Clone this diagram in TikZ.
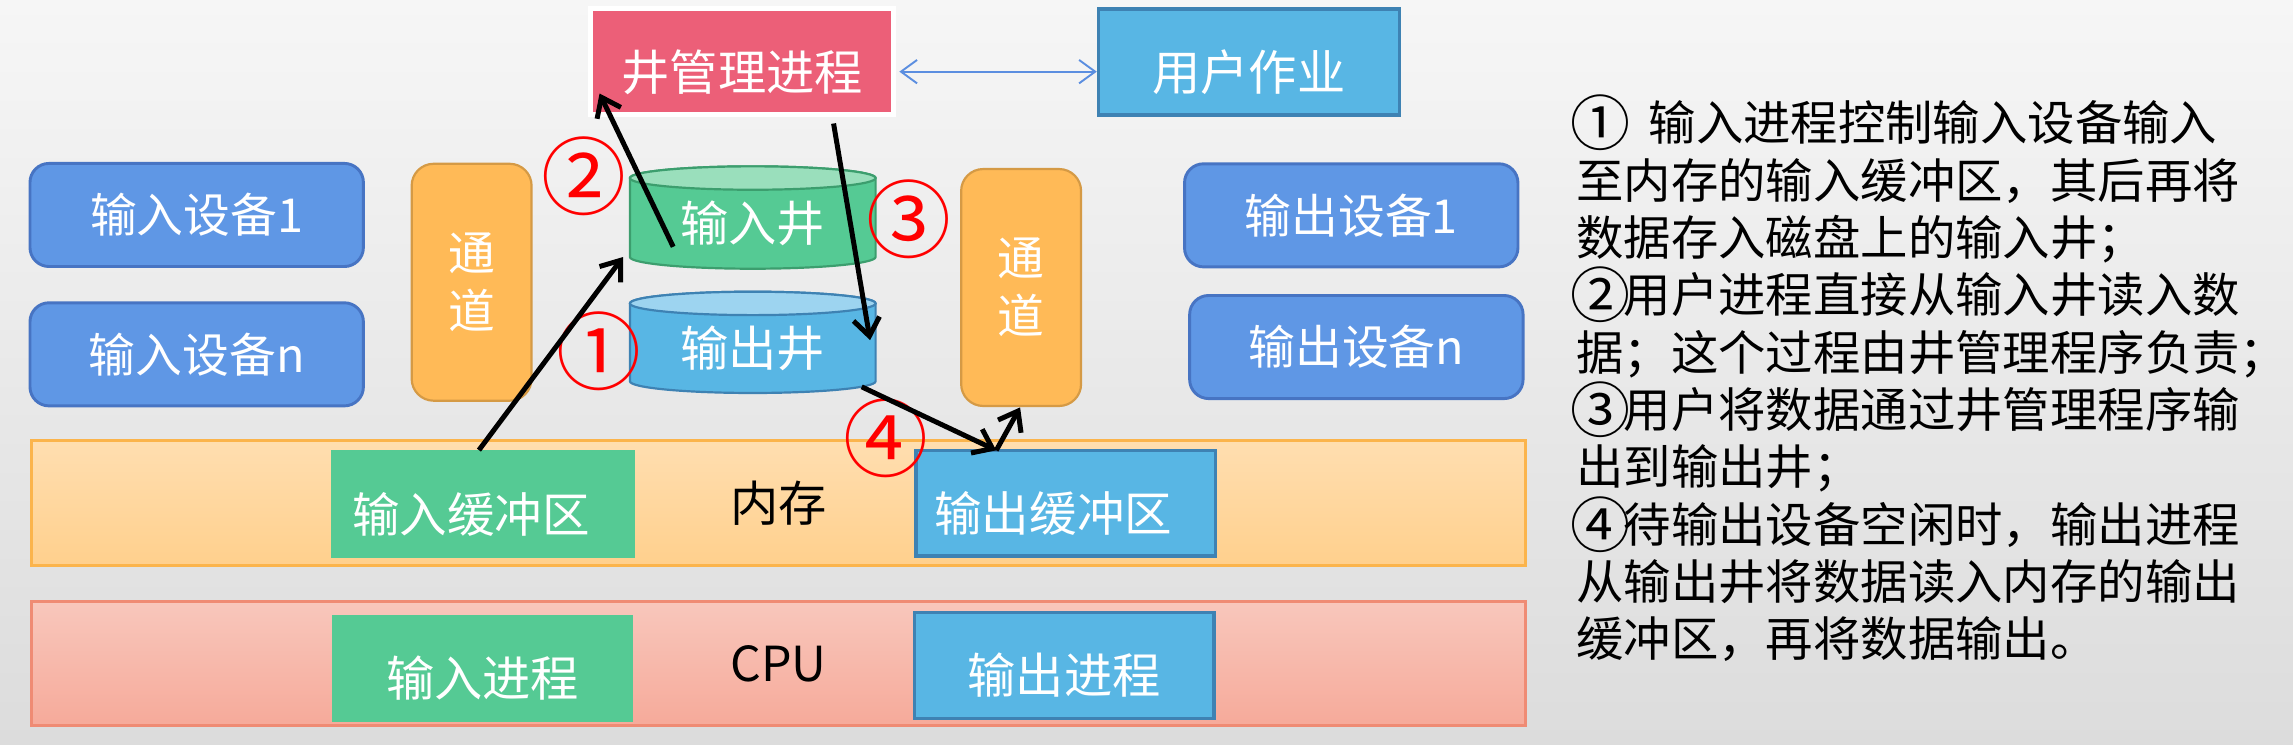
\documentclass[tikz,border=0pt]{standalone}
\usepackage{fontspec}
\setmainfont{Noto Sans CJK SC}
\usetikzlibrary{arrows.meta,calc}
\definecolor{bgtop}{HTML}{F6F6F6}
\definecolor{bgbot}{HTML}{DCDCDC}
\definecolor{wellpink}{HTML}{EC5F78}
\definecolor{devblue}{HTML}{5F97E5}
\definecolor{devborder}{HTML}{4774C3}
\definecolor{chanfill}{HTML}{FFBA57}
\definecolor{chanborder}{HTML}{D59A45}
\definecolor{greenfill}{HTML}{55CA94}
\definecolor{greenborder}{HTML}{3C9E6E}
\definecolor{greentop}{HTML}{9ADFBC}
\definecolor{bluefill}{HTML}{58B6E4}
\definecolor{blueborder}{HTML}{3E82B3}
\definecolor{bluetop}{HTML}{9DD4F0}
\definecolor{memtop}{HTML}{FFDEB0}
\definecolor{membot}{HTML}{FFD08D}
\definecolor{memborder}{HTML}{FBB44C}
\definecolor{cputop}{HTML}{F8C7BC}
\definecolor{cpubot}{HTML}{F6AA9A}
\definecolor{cpuborder}{HTML}{EF8B74}
\definecolor{arrowblue}{HTML}{5B8EE0}
\newcommand{\bignum}[1]{\makebox[1em][c]{\raisebox{-3.5pt}{\fontsize{41}{39}\selectfont #1}}}
\begin{document}
\begin{tikzpicture}[x=1pt,y=-1pt,
  font=\fontsize{33}{40}\selectfont,
  every node/.style={outer sep=0pt},
  downtext/.style={text height=#1, text depth=0pt},
  devbox/.style={draw=devborder, fill=devblue, line width=2pt, rounded corners=13pt,
    minimum width=228pt, minimum height=70.5pt, text=white, inner sep=0pt,
    font=\fontsize{32}{40}\selectfont},
  chanbox/.style={draw=chanborder, fill=chanfill, line width=1.5pt, rounded corners=15pt,
    minimum width=82pt, minimum height=162pt, text=white, align=center, inner sep=0pt,
    font=\fontsize{32}{39.5}\selectfont},
  greenbox/.style={fill=greenfill, text=white, inner sep=0pt},
  bluebox/.style={fill=bluefill, draw=blueborder, line width=2.4pt, text=white, inner sep=0pt},
  bandbox/.style={line width=2pt, minimum width=1022pt, inner sep=0pt, text=black},
  cylbox/.style={minimum width=168pt, inner sep=0pt, text=white},
  circnum/.style={text=red, font=\fontsize{58}{58}\selectfont, inner sep=0pt},
  blackarrow/.style={line width=3.4pt, -{Straight Barb[length=12pt,width=18pt]}},
  bluearrow/.style={draw=arrowblue, line width=1.3pt,
    {Straight Barb[length=11pt,width=16pt]}-{Straight Barb[length=11pt,width=16pt]}},
  note/.style={anchor=base west, inner sep=0pt, text=black, font=\fontsize{32.4}{39}\selectfont}
]
% background and frame
\useasboundingbox (0,0) rectangle (1568,508.8);
\fill[top color=bgtop, bottom color=bgbot] (0,0) rectangle (1568,508.8);

% memory and CPU bands
\node[bandbox, top color=memtop, bottom color=membot, draw=memborder,
  minimum height=85pt] (mem) at (532.4,344) {内存};
\node[bandbox, top color=cputop, bottom color=cpubot, draw=cpuborder,
  minimum height=84.7pt] (cpu) at (532.4,453.65) {CPU};

% top boxes
\node[fill=wellpink, draw=white, line width=3.5pt, minimum width=207pt, minimum height=72.5pt,
  text=white, inner sep=0pt, downtext=39pt] (well) at (507.5,42.2) {井管理进程};
\node[bluebox, minimum width=206pt, minimum height=72.5pt, downtext=39pt] (user) at (854,42.5) {用户作业};

% devices
\node[devbox] (in1) at (134.5,147) {输入设备1};
\node[devbox] (inn) at (134.5,242.3) {输入设备n};
\node[devbox] (out1) at (924,147.25) {输出设备1};
\node[devbox] (outn) at (927.5,237.3) {输出设备n};

% channels
\node[chanbox] (chL) at (322.5,193) {通\\道};
\node[chanbox] (chR) at (698.25,196.6) {通\\道};

% buffers and processes
\node[greenbox, minimum width=207.7pt, minimum height=73.6pt, downtext=38.7pt,
  font=\fontsize{32.5}{40}\selectfont] (inbuf) at (330.5,344.6) {输入缓冲区\hspace*{17pt}};
\node[bluebox, minimum width=205pt, minimum height=72.4pt, downtext=38.7pt,
  font=\fontsize{32.5}{40}\selectfont] (outbuf) at (728.75,344.15) {输出缓冲区\hspace*{17pt}};
\node[greenbox, minimum width=206pt, minimum height=73.4pt, downtext=38pt] (inproc) at (330,457.3) {输入进程};
\node[bluebox, minimum width=205pt, minimum height=72.3pt, downtext=38pt] (outproc) at (727.75,455) {输出进程};

% spool cylinders
\node[cylbox, minimum height=70pt] (wellin) at (514.75,148.75) {};
\node[cylbox, minimum height=69.25pt] (wellout) at (514.75,234.1) {};
\path[fill=greenfill, draw=greenborder, line width=1.5pt]
  ([yshift=-8pt]wellin.north west) -- ([yshift=8pt]wellin.south west)
  arc[start angle=180, end angle=360, x radius=84pt, y radius=8pt]
  -- ([yshift=-8pt]wellin.north east)
  arc[start angle=0, end angle=180, x radius=84pt, y radius=8pt] -- cycle;
\path[fill=greentop, draw=greenborder, line width=1.5pt]
  ([yshift=-8pt]wellin.north) ellipse[x radius=84pt, y radius=8pt];
\path[fill=bluefill, draw=blueborder, line width=1.5pt]
  ([yshift=-8pt]wellout.north west) -- ([yshift=8pt]wellout.south west)
  arc[start angle=180, end angle=360, x radius=84pt, y radius=8pt]
  -- ([yshift=-8pt]wellout.north east)
  arc[start angle=0, end angle=180, x radius=84pt, y radius=8pt] -- cycle;
\path[fill=bluetop, draw=blueborder, line width=1.5pt]
  ([yshift=-8pt]wellout.north) ellipse[x radius=84pt, y radius=8pt];
\node[text=white, inner sep=0pt] (wellintext) at ([yshift=-4pt]wellin.center) {输入井};
\node[text=white, inner sep=0pt] (wellouttext) at ([yshift=-4pt]wellout.center) {输出井};

% circled step numbers
\node[circnum] (n1) at (409.5,240.5) {①};
\node[circnum] (n2) at (399.4,120.2) {②};
\node[circnum] (n3) at (621.7,150) {③};
\node[circnum] (n4) at (606,299.5) {④};

% connectors
\draw[bluearrow] ($(well.east)+(4,6.8)$) -- ($(user.west)+(-1,6.5)$);
\draw[blackarrow] ($(inbuf.north)+(-3,0)$) -- ($(wellin.south west)+(-4.7,-8)$);
\draw[blackarrow] ($(wellin.south west)+(29.6,-15)$) -- ($(well.south west)+(6,-14.5)$);
\draw[blackarrow] ($(well.south east)+(-41,6)$) -- ($(wellout.east)+(-3.75,-1.5)$);
\coordinate (v4) at ($(outbuf.north)+(-47.5,0)$);
\draw[blackarrow] ($(wellout.south east)+(-9.5,-4.2)$) -- (v4);
\draw[blackarrow] (v4) -- ($(chR.south)+(-0.7,1)$);

% explanation text
\foreach \txtline [count=\i] in {
  {\bignum{①} \hspace{0.3em}输入进程控制输入设备输入},
  {至内存的输入缓冲区，其后再将},
  {数据存入磁盘上的输入井；},
  {\bignum{②}用户进程直接从输入井读入数},
  {据；这个过程由井管理程序负责；},
  {\bignum{③}用户将数据通过井管理程序输},
  {出到输出井；},
  {\bignum{④}待输出设备空闲时，输出进程},
  {从输出井将数据读入内存的输出},
  {缓冲区，再将数据输出。}}
  \node[note] (note\i) at (1078,{96.3+39.2*(\i-1)}) {\txtline};
\end{tikzpicture}
\end{document}
